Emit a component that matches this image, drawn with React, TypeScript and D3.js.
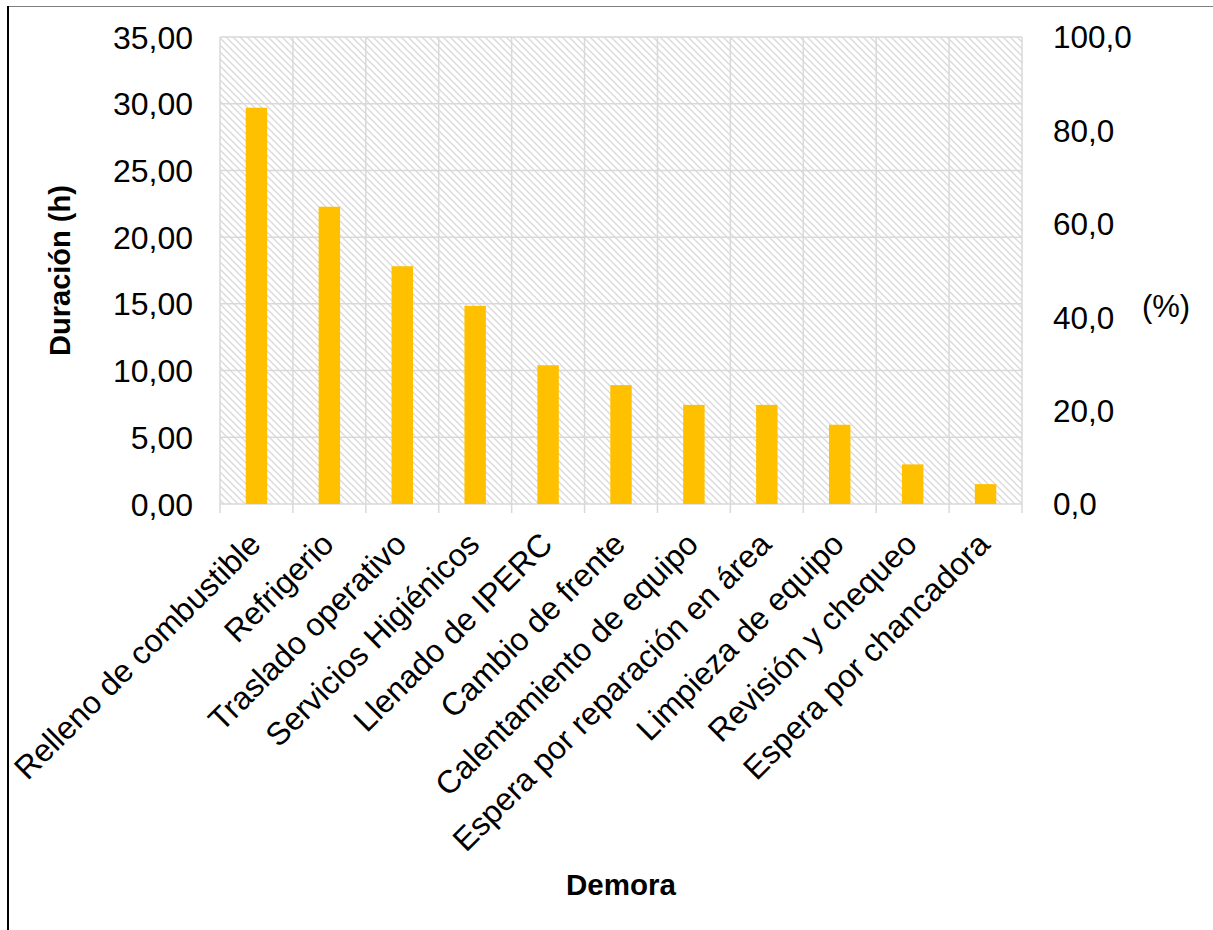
import React from "react";
import * as d3 from "d3";

// Delay categories and their total duration in hours
const categories = [
  "Relleno de combustible",
  "Refrigerio",
  "Traslado operativo",
  "Servicios Higiénicos",
  "Llenado de IPERC",
  "Cambio de frente",
  "Calentamiento de equipo",
  "Espera por reparación en área",
  "Limpieza de equipo",
  "Revisión y chequeo",
  "Espera por chancadora",
];
const durations = [29.7, 22.28, 17.82, 14.85, 10.4, 8.91, 7.43, 7.43, 5.94, 2.97, 1.49];

const leftTicks = [0, 5, 10, 15, 20, 25, 30, 35];
const rightTicks = [0, 20, 40, 60, 80, 100];

const W = 1213;
const H = 930;
const plot = { left: 220, right: 1022, top: 37, bottom: 504 };
const FONT = "'Liberation Sans', Arial, sans-serif";
const GRID = "#d9d9d9";
const BAR = "#FFC000";

const locale = d3.formatLocale({
  decimal: ",",
  thousands: ".",
  grouping: [3],
  currency: ["", ""],
});
const fmt2 = locale.format(".2f");
const fmt1 = locale.format(".1f");

export default function App() {
  const x = d3
    .scaleBand<string>()
    .domain(categories)
    .range([plot.left, plot.right])
    .paddingInner(0)
    .paddingOuter(0);
  const y = d3.scaleLinear().domain([0, 35]).range([plot.bottom, plot.top]);
  const yR = d3.scaleLinear().domain([0, 100]).range([plot.bottom, plot.top]);

  const bw = x.bandwidth();
  const barW = bw / 3.4; // gap width 240%
  const boundaries = d3.range(categories.length + 1).map((i) => plot.left + i * bw);

  return (
    <svg
      width={W}
      height={H}
      viewBox={`0 0 ${W} ${H}`}
      style={{ position: "absolute", left: 0, top: 0, background: "#fff" }}
      fontFamily={FONT}
    >
      <defs>
        <pattern id="hatch" width={7} height={7} patternUnits="userSpaceOnUse">
          <rect width={7} height={7} fill="#ffffff" />
          <path
            d="M-1,-1 L8,8 M-1,6 L1,8 M6,-1 L8,1"
            stroke="#d9d9d9"
            strokeWidth={1.3}
          />
        </pattern>
      </defs>

      {/* outer frame */}
      <line x1={7} y1={6.5} x2={W} y2={6.5} stroke="#7f7f7f" strokeWidth={1.2} />
      <line x1={8} y1={6} x2={8} y2={H} stroke="#000" strokeWidth={2} />

      {/* plot area */}
      <rect
        x={plot.left}
        y={plot.top}
        width={plot.right - plot.left}
        height={plot.bottom - plot.top}
        fill="url(#hatch)"
      />

      {/* horizontal gridlines */}
      {leftTicks.map((t) => (
        <line
          key={"h" + t}
          x1={plot.left}
          x2={plot.right}
          y1={y(t)}
          y2={y(t)}
          stroke={GRID}
          strokeWidth={1.5}
        />
      ))}
      {/* vertical gridlines and category ticks */}
      {boundaries.map((bx, i) => (
        <line
          key={"v" + i}
          x1={bx}
          x2={bx}
          y1={plot.top}
          y2={plot.bottom + 9}
          stroke={GRID}
          strokeWidth={1.5}
        />
      ))}

      {/* bars */}
      {categories.map((c, i) => (
        <rect
          key={c}
          x={(x(c) as number) + bw / 2 - barW / 2}
          y={y(durations[i])}
          width={barW}
          height={y(0) - y(durations[i])}
          fill={BAR}
        />
      ))}

      {/* left axis labels */}
      {leftTicks.map((t) => (
        <text
          key={"lt" + t}
          x={193}
          y={y(t)}
          dy="0.36em"
          textAnchor="end"
          fontSize={32}
          fill="#000"
        >
          {fmt2(t)}
        </text>
      ))}

      {/* right axis labels */}
      {rightTicks.map((t) => (
        <text
          key={"rt" + t}
          x={1053}
          y={yR(t)}
          dy="0.36em"
          textAnchor="start"
          fontSize={31.5}
          fill="#000"
        >
          {fmt1(t)}
        </text>
      ))}
      <text x={1166} y={306} dy="0.36em" textAnchor="middle" fontSize={31} fill="#000">
        (%)
      </text>

      {/* category labels */}
      {categories.map((c) => (
        <text
          key={"c" + c}
          transform={`translate(${(x(c) as number) + bw / 2 - 2},${538}) rotate(-45)`}
          dy="0.36em"
          textAnchor="end"
          fontSize={32}
          fill="#000"
        >
          {c}
        </text>
      ))}

      {/* axis titles */}
      <text
        transform={`translate(${70},${(plot.top + plot.bottom) / 2}) rotate(-90)`}
        textAnchor="middle"
        fontSize={29}
        fontWeight="bold"
        fill="#000"
      >
        Duración (h)
      </text>
      <text
        x={(plot.left + plot.right) / 2}
        y={895}
        textAnchor="middle"
        fontSize={29.5}
        fontWeight="bold"
        fill="#000"
      >
        Demora
      </text>
    </svg>
  );
}
